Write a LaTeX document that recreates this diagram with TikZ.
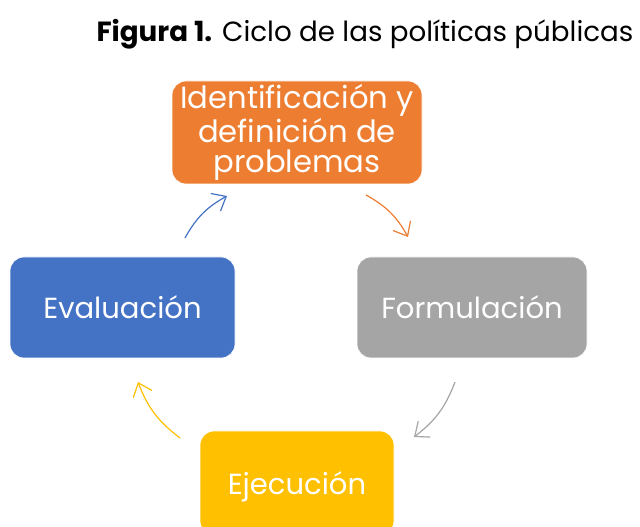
\documentclass[tikz,border=0pt]{standalone}
\usepackage{fontspec}
\setmainfont{Poppins}
\usetikzlibrary{arrows.meta}
\definecolor{corange}{HTML}{ED7D31}
\definecolor{cblue}{HTML}{4472C4}
\definecolor{cgray}{HTML}{A5A5A5}
\definecolor{cyellow}{HTML}{FFC000}
\tikzset{
  box/.style={rounded corners=14pt*0.75, draw=white, line width=0.5pt, text=white,
    font=\fontsize{21.8pt}{23pt}\selectfont, align=center, inner sep=0pt},
  cyc/.style={line width=0.9pt, bend left=16, -{Straight Barb[length=9pt,width=15pt,line width=0.9pt]}},
}
\begin{document}
\begin{tikzpicture}[x=0.75pt,y=-0.75pt]
\useasboundingbox (0,0) rectangle (640,527);
\clip (0,0) rectangle (640,527);
\node[font=\fontsize{20.8pt}{22pt}\selectfont, anchor=base] (title) at (365,42) {\textbf{Figura 1.} Ciclo de las políticas públicas};
\node[box, fill=corange, minimum width=250*0.75pt, minimum height=103*0.75pt,
  font=\fontsize{23pt}{22.5pt}\selectfont] (ident) at (297,132.5)
  {Identificación y\\definición de\\problemas};
\node[box, fill=cblue, minimum width=225*0.75pt, minimum height=101*0.75pt] (eval) at (122.5,307.5) {Evaluación};
\node[box, fill=cgray, minimum width=230*0.75pt, minimum height=101*0.75pt] (form) at (472,307.5) {Formulación};
\node[box, fill=cyellow, minimum width=194*0.75pt, minimum height=104*0.75pt, text depth=0pt] (ejec) at (297,483) {Ejecución};
\coordinate (b1) at (185,238); \coordinate (b2) at (227,196);
\coordinate (o1) at (366,195); \coordinate (o2) at (408,237);
\coordinate (g1) at (455,382); \coordinate (g2) at (414,437);
\coordinate (y1) at (180,438); \coordinate (y2) at (138,382);
\draw[cyc, cblue] (b1) to (b2);
\draw[cyc, corange] (o1) to (o2);
\draw[cyc, cgray] (g1) to (g2);
\draw[cyc, cyellow] (y1) to (y2);
\end{tikzpicture}
\end{document}
